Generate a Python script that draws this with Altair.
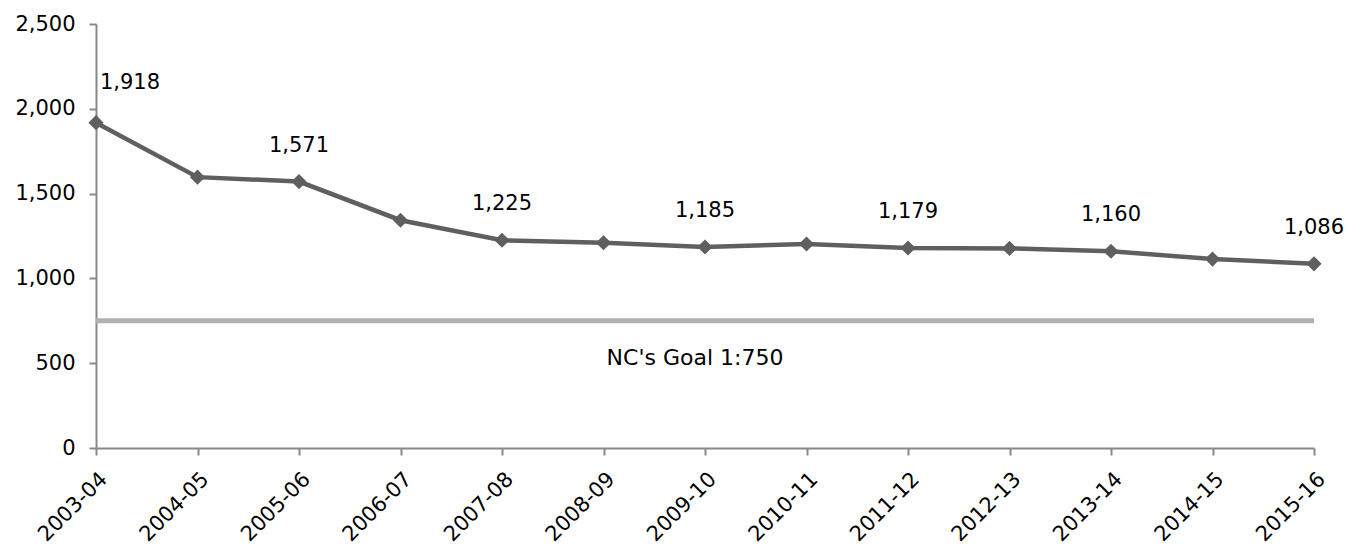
import altair as alt
import pandas as pd

years = ["2003-04", "2004-05", "2005-06", "2006-07", "2007-08", "2008-09", "2009-10",
         "2010-11", "2011-12", "2012-13", "2013-14", "2014-15", "2015-16"]
ratios = [1918, 1597, 1571, 1343, 1225, 1210, 1185, 1203, 1179, 1177, 1160, 1114, 1086]
labeled = [True, False, True, False, True, False, True, False, True, False, True, False, True]
goal_value = 750
goal_label = "NC's Goal 1:750"
y_ticks = [0, 500, 1000, 1500, 2000, 2500]

FONT = "DejaVu Sans"
LINE = "#5f5f5f"

df = pd.DataFrame({"year": years, "ratio": ratios, "labeled": labeled})
df["label"] = df["ratio"].map(lambda v: f"{v:,}")

yscale = alt.Scale(domain=[0, 2500], nice=False, zero=True)
xscale = alt.Scale(type="point", padding=0)

xaxis = alt.Axis(labelAngle=-45, labelFontSize=21, labelFont=FONT, labelColor="#000",
                 domainColor="#888", domainWidth=2, tickColor="#888", tickWidth=2,
                 tickSize=7, labelPadding=13, grid=False, title=None)
yaxis = alt.Axis(values=y_ticks, format=",d",
                 labelFontSize=21, labelFont=FONT, labelColor="#000",
                 domainColor="#888", domainWidth=2, tickColor="#888", tickWidth=2,
                 tickSize=7, labelPadding=14, grid=False, title=None)

x = alt.X("year:N", sort=years, scale=xscale, axis=xaxis)
y = alt.Y("ratio:Q", scale=yscale, axis=yaxis)

base = alt.Chart(df)

goal = alt.Chart(pd.DataFrame({"ratio": [goal_value]})).mark_rule(
    color="#b0b0b0", strokeWidth=5).encode(y=y)

goal_text = alt.Chart(pd.DataFrame({"year": ["2009-10"], "ratio": [goal_value], "t": [goal_label]})).mark_text(
    font=FONT, fontSize=22, color="#000", dx=-10, dy=37).encode(x=x, y=y, text="t:N")

line = base.mark_line(color=LINE, strokeWidth=4.5).encode(x=x, y=y)
pts = base.mark_point(shape="diamond", filled=True, size=230, color=LINE, opacity=1).encode(x=x, y=y)

lbl_first = base.transform_filter(alt.datum.year == years[0]).mark_text(
    font=FONT, fontSize=21, color="#000", dx=34, dy=-40).encode(x=x, y=y, text="label:N")
lbl_rest = base.transform_filter((alt.datum.labeled == True) & (alt.datum.year != years[0])).mark_text(
    font=FONT, fontSize=21, color="#000", dy=-36).encode(x=x, y=y, text="label:N")

chart = alt.layer(goal, line, pts, goal_text, lbl_first, lbl_rest).properties(
    width=1218, height=424,
    autosize=alt.AutoSizeParams(type="none"),
    padding={"left": 88, "top": 16, "right": 30, "bottom": 110},
).configure(background="white", view=alt.ViewConfig(stroke=None))

chart.save("out.html", embed_options={"renderer": "svg", "actions": False})
